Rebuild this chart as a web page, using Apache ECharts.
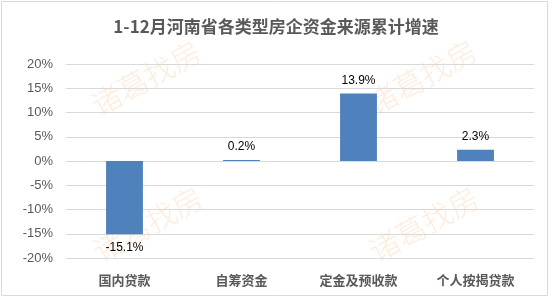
<!DOCTYPE html>
<html><head><meta charset="utf-8">
<script src="https://cdn.jsdelivr.net/npm/echarts@6/dist/echarts.min.js"></script>
<style>html,body{margin:0;padding:0;background:#fff}#c{width:552px;height:298px}</style>
</head><body><div id="c"></div>
<script>
const titleText = '1-12月河南省各类型房企资金来源累计增速';
const categories = ['国内贷款', '自筹资金', '定金及预收款', '个人按揭贷款'];
const growth = [-15.1, 0.2, 13.9, 2.3];
const yTicks = [-20, -15, -10, -5, 0, 5, 10, 15, 20];
const watermark = '诸葛找房';

const chart = echarts.init(document.getElementById('c'));
const wmPos = [[146, 78], [422, 77], [148, 224], [424, 224]];
chart.setOption({
  animation: false,
  title: {
    text: titleText, left: 'center', top: 13,
    textStyle: {fontFamily: '"Noto Sans CJK SC"', fontSize: 17, fontWeight: 'bold', color: '#595959'}
  },
  graphic: [
    {type: 'rect', shape: {x: 1.5, y: 1.5, width: 546, height: 294}, style: {fill: 'none', stroke: '#d9d9d9', lineWidth: 1}, z: -10, silent: true}
  ].concat(wmPos.map(p => ({
    type: 'text', x: p[0], y: p[1], rotation: 29 * Math.PI / 180, z: -5, silent: true,
    style: {text: watermark, fontSize: 30, fontFamily: '"Noto Sans CJK SC"', fontWeight: 300, fill: 'rgba(252,170,100,0.22)', align: 'center', verticalAlign: 'middle'}
  }))),
  grid: {left: 66, right: 18, top: 64, bottom: 40, containLabel: false},
  xAxis: {
    type: 'category', data: categories,
    axisLine: {show: false, onZero: false}, axisTick: {show: false},
    axisLabel: {margin: 16, fontSize: 13, fontWeight: 'bold', color: '#595959', fontFamily: '"Noto Sans CJK SC"'}
  },
  yAxis: {
    type: 'value', min: yTicks[0], max: yTicks[yTicks.length - 1], interval: 5,
    axisLine: {show: false}, axisTick: {show: false},
    splitLine: {lineStyle: {color: '#d9d9d9', width: 1}},
    axisLabel: {formatter: v => v + '%', fontSize: 13, color: '#595959', margin: 13, fontFamily: '"Liberation Sans"'}
  },
  series: [{
    type: 'bar', barWidth: '31.5%', zlevel: 1,
    data: growth.map(v => ({value: v, label: {position: v < 0 ? 'bottom' : 'top'}})),
    itemStyle: {color: '#4f81bd'},
    label: {show: true, formatter: p => p.value.toFixed(1) + '%', fontSize: 12, color: '#000', distance: 7, fontFamily: '"Liberation Sans"'}
  }]
});
</script></body></html>
